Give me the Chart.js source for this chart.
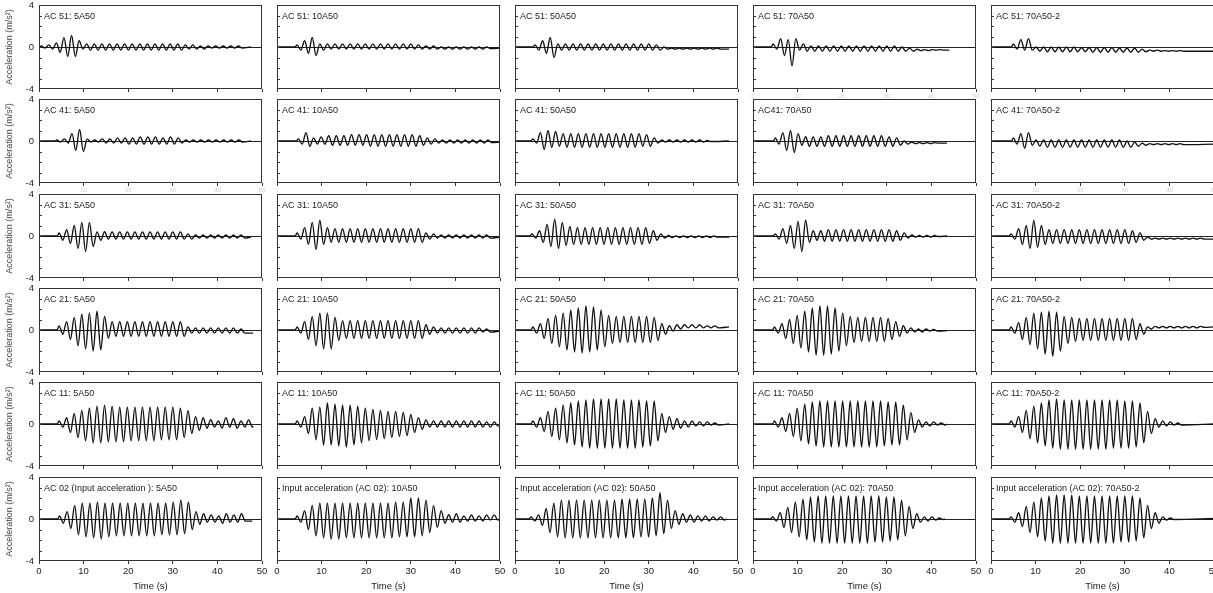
<!DOCTYPE html>
<html>
<head>
<meta charset="utf-8">
<script src="https://cdn.jsdelivr.net/npm/chart.js@4.4.1/dist/chart.umd.min.js"></script>
<style>
html, body { margin: 0; padding: 0; background: #fff; overflow: hidden; }
#grid { position: relative; width: 1213px; height: 593px; }
#grid canvas { position: absolute; }
</style>
</head>
<body>
<div id="grid"></div>
<script>
// time between two successive peaks (half a cycle), s
const halfPeriod = 0.85;

const titles = [
  ['AC 51: 5A50', 'AC 51: 10A50', 'AC 51: 50A50', 'AC 51: 70A50', 'AC 51: 70A50-2'],
  ['AC 41: 5A50', 'AC 41: 10A50', 'AC 41: 50A50', 'AC41: 70A50', 'AC 41: 70A50-2'],
  ['AC 31: 5A50', 'AC 31: 10A50', 'AC 31: 50A50', 'AC 31: 70A50', 'AC 31: 70A50-2'],
  ['AC 21: 5A50', 'AC 21: 10A50', 'AC 21: 50A50', 'AC 21: 70A50', 'AC 21: 70A50-2'],
  ['AC 11: 5A50', 'AC 11: 10A50', 'AC 11: 50A50', 'AC 11: 70A50', 'AC 11: 70A50-2'],
  ['AC 02 (Input acceleration ): 5A50', 'Input acceleration (AC 02): 10A50', 'Input acceleration (AC 02): 50A50',
   'Input acceleration (AC 02): 70A50', 'Input acceleration (AC 02): 70A50-2']
];
const xTicks = [0, 10, 20, 30, 40, 50];
const yTicks = [-4, 0, 4];

// when the shaking starts / the record stops, and the level it settles at
const startTime = [
  [0.5, 4.5, 4.5, 4.5, 5.0],
  [4.0, 4.8, 4.0, 5.0, 5.0],
  [4.5, 4.5, 3.8, 5.0, 4.5],
  [4.5, 4.5, 4.0, 4.8, 4.5],
  [4.5, 4.5, 4.0, 4.8, 4.5],
  [4.6, 4.5, 3.6, 4.4, 4.5]
];
const endTime = [
  [47.5, 50, 48, 44, 50],
  [47.5, 50, 48, 43.5, 50],
  [47.5, 50, 48, 43.5, 50],
  [48, 50, 48, 43.5, 50],
  [48, 50, 48, 43.5, 50],
  [47.8, 50, 47.5, 43, 50]
];
const endLevel = [
  [0, -0.1, -0.2, -0.3, -0.4],
  [0, -0.1, 0, -0.2, -0.3],
  [-0.1, -0.1, -0.1, 0, -0.3],
  [-0.3, -0.1, 0.3, -0.05, 0.3],
  [-0.2, -0.1, 0, 0, 0],
  [-0.2, 0, 0, 0, 0.05]
];

// peak values (m/s2), up and down in turn, read cycle by cycle
const ac51_5 = [0.1,-0.1, 0.2,-0.2, 0.4,-0.5, 0.9,-0.9, 1.1,-0.9, 0.6,-0.2, 0.3,-0.3, 0.3,-0.3, 0.3,-0.3, 0.3,-0.3, 0.3,-0.3, 0.3,-0.3, 0.3,-0.3, 0.3,-0.3, 0.3,-0.3, 0.3,-0.3, 0.3,-0.3, 0.3,-0.3, 0.3,-0.3, 0.2,-0.2, 0.2,-0.2, 0.1,-0.2, 0.1,-0.1, 0.1,-0.1, 0.1,-0.1, 0.1,-0.1, 0.1,-0.1];
const ac51_10 = [0.2,-0.3, 0.6,-0.6, 0.9,-0.8, 0.3,-0.3, 0.3,-0.2, 0.3,-0.2, 0.3,-0.2, 0.3,-0.2, 0.3,-0.2, 0.3,-0.2, 0.3,-0.2, 0.3,-0.2, 0.3,-0.2, 0.3,-0.2, 0.3,-0.2, 0.3,-0.2, 0.2,-0.2, 0.1,-0.2, 0.1,-0.2, 0.0,-0.2, 0.0,-0.2, 0.0,-0.2, 0.0,-0.2, 0.0,-0.2, 0.0,-0.2, 0.0,-0.15];
const ac51_50 = [0.2,-0.3, 0.6,-0.6, 0.9,-1.0, 0.3,-0.3, 0.3,-0.3, 0.3,-0.3, 0.3,-0.3, 0.3,-0.3, 0.3,-0.3, 0.3,-0.3, 0.3,-0.3, 0.3,-0.3, 0.3,-0.3, 0.3,-0.3, 0.3,-0.3, 0.3,-0.3, 0.2,-0.3, 0.0,-0.2, -0.1,-0.2, -0.1,-0.2, -0.1,-0.2, -0.1,-0.2, -0.1,-0.2, -0.1,-0.2, -0.1,-0.2];
const ac51_70 = [0.3,-0.2, 0.8,-0.8, 0.7,-1.8, 0.8,-0.3, 0.3,-0.4, 0.1,-0.4, 0.1,-0.4, 0.1,-0.4, 0.1,-0.4, 0.1,-0.4, 0.1,-0.4, 0.1,-0.4, 0.1,-0.4, 0.1,-0.4, 0.1,-0.4, 0.1,-0.4, 0.1,-0.4, 0.0,-0.4, -0.1,-0.4, -0.2,-0.35, -0.25,-0.35, -0.25,-0.3, -0.25,-0.3];
const ac51_70b = [0.3,-0.2, 0.7,-0.3, 0.8,-0.3, 0.0,-0.4, 0.0,-0.45, 0.0,-0.45, 0.0,-0.45, 0.0,-0.45, 0.0,-0.45, -0.05,-0.45, -0.05,-0.5, -0.05,-0.5, -0.05,-0.5, -0.05,-0.5, -0.1,-0.5, -0.1,-0.5, -0.1,-0.5, -0.2,-0.45, -0.3,-0.4, -0.3,-0.4, -0.35,-0.4, -0.35,-0.4, -0.35,-0.4];

const ac41_5 = [0.1,-0.1, 0.2,-0.2, 0.7,-0.9, 1.1,-1.0, 0.2,-0.1, 0.1,-0.1, 0.2,-0.2, 0.2,-0.2, 0.3,-0.2, 0.3,-0.3, 0.3,-0.3, 0.4,-0.3, 0.4,-0.3, 0.4,-0.3, 0.3,-0.3, 0.4,-0.3, 0.3,-0.2, 0.1,-0.1, 0.1,-0.1, 0.1,-0.1, 0.1,-0.1, 0.1,-0.1, 0.1,-0.1, 0.1,-0.1, 0.1,-0.1];
const ac41_10 = [0.2,-0.3, 0.8,-0.5, 0.3,-0.3, 0.4,-0.3, 0.5,-0.4, 0.5,-0.4, 0.5,-0.4, 0.6,-0.4, 0.6,-0.4, 0.6,-0.5, 0.6,-0.5, 0.6,-0.5, 0.6,-0.5, 0.6,-0.5, 0.6,-0.5, 0.6,-0.5, 0.5,-0.4, 0.3,-0.3, 0.2,-0.2, 0.1,-0.2, 0.1,-0.2, 0.1,-0.2, 0.1,-0.2, 0.1,-0.2, 0.1,-0.2, 0.1,-0.15];
const ac41_50 = [0.2,-0.2, 0.8,-0.8, 1.0,-0.6, 0.9,-0.5, 0.7,-0.6, 0.7,-0.6, 0.7,-0.6, 0.7,-0.6, 0.7,-0.6, 0.7,-0.6, 0.7,-0.6, 0.7,-0.6, 0.7,-0.6, 0.7,-0.6, 0.7,-0.5, 0.6,-0.5, 0.3,-0.2, 0.1,-0.1, 0.1,-0.1, 0.1,-0.1, 0.1,-0.1, 0.1,-0.1, 0.1,-0.1, 0.05,-0.05];
const ac41_70 = [0.3,-0.3, 0.8,-0.9, 1.0,-1.1, 0.7,-0.4, 0.4,-0.5, 0.4,-0.5, 0.4,-0.5, 0.5,-0.5, 0.5,-0.5, 0.5,-0.5, 0.5,-0.5, 0.5,-0.5, 0.5,-0.5, 0.5,-0.5, 0.5,-0.5, 0.4,-0.5, 0.3,-0.4, 0.0,-0.3, -0.1,-0.25, -0.15,-0.25, -0.15,-0.25, -0.15,-0.2];
const ac41_70b = [0.3,-0.3, 0.7,-0.7, 0.8,-0.4, 0.1,-0.5, 0.1,-0.6, 0.1,-0.6, 0.1,-0.6, 0.1,-0.6, 0.1,-0.6, 0.1,-0.6, 0.1,-0.6, 0.1,-0.6, 0.1,-0.6, 0.1,-0.6, 0.1,-0.6, 0.0,-0.6, -0.1,-0.5, -0.2,-0.4, -0.25,-0.35, -0.25,-0.35, -0.25,-0.35, -0.25,-0.35, -0.25,-0.35];

const ac31_5 = [0.3,-0.4, 0.6,-0.7, 1.0,-1.2, 1.3,-1.5, 1.3,-1.0, 0.4,-0.4, 0.4,-0.3, 0.4,-0.3, 0.4,-0.3, 0.4,-0.3, 0.4,-0.3, 0.4,-0.3, 0.4,-0.3, 0.4,-0.3, 0.4,-0.3, 0.4,-0.3, 0.4,-0.3, 0.2,-0.3, 0.1,-0.2, 0.1,-0.2, 0.1,-0.2, 0.1,-0.2, 0.1,-0.2, 0.1,-0.2, 0.1,-0.2];
const ac31_10 = [0.3,-0.3, 0.8,-0.8, 1.3,-1.3, 1.5,-0.8, 0.8,-0.6, 0.7,-0.6, 0.7,-0.6, 0.7,-0.6, 0.7,-0.6, 0.7,-0.6, 0.7,-0.6, 0.7,-0.6, 0.7,-0.6, 0.7,-0.6, 0.7,-0.6, 0.7,-0.6, 0.7,-0.6, 0.3,-0.3, 0.2,-0.2, 0.1,-0.2, 0.1,-0.2, 0.1,-0.2, 0.1,-0.2, 0.1,-0.2, 0.1,-0.2, 0.1,-0.2];
const ac31_50 = [0.2,-0.2, 0.5,-0.6, 1.1,-1.0, 1.6,-1.2, 1.3,-0.9, 0.9,-0.8, 0.8,-0.8, 0.8,-0.8, 0.8,-0.8, 0.8,-0.8, 0.8,-0.8, 0.8,-0.8, 0.8,-0.8, 0.8,-0.8, 0.8,-0.8, 0.8,-0.7, 0.5,-0.4, 0.2,-0.2, 0.05,-0.15, 0.0,-0.15, 0.0,-0.15, 0.0,-0.15, 0.0,-0.15, 0.0,-0.15, 0.0,-0.1];
const ac31_70 = [0.2,-0.3, 0.7,-0.7, 1.0,-1.2, 1.4,-1.5, 1.5,-0.6, 0.5,-0.4, 0.5,-0.5, 0.6,-0.5, 0.6,-0.5, 0.6,-0.5, 0.6,-0.5, 0.6,-0.5, 0.6,-0.5, 0.6,-0.5, 0.6,-0.5, 0.6,-0.5, 0.5,-0.4, 0.3,-0.2, 0.1,-0.1, 0.05,-0.1, 0.05,-0.1, 0.05,-0.05];
const ac31_70b = [0.2,-0.3, 0.7,-0.8, 1.0,-1.2, 1.5,-1.1, 1.0,-0.8, 0.6,-0.7, 0.6,-0.7, 0.6,-0.7, 0.6,-0.7, 0.6,-0.7, 0.6,-0.7, 0.6,-0.7, 0.6,-0.7, 0.6,-0.7, 0.6,-0.7, 0.6,-0.7, 0.5,-0.6, 0.3,-0.4, -0.1,-0.3, -0.2,-0.3, -0.2,-0.3, -0.2,-0.3, -0.2,-0.3, -0.2,-0.3, -0.2,-0.3, -0.2,-0.3];

const ac21_5 = [0.4,-0.4, 0.8,-0.9, 1.2,-1.5, 1.5,-1.8, 1.6,-2.0, 1.8,-1.9, 1.3,-0.8, 0.8,-0.6, 0.8,-0.6, 0.8,-0.6, 0.8,-0.6, 0.8,-0.6, 0.8,-0.6, 0.8,-0.6, 0.8,-0.6, 0.8,-0.6, 0.8,-0.6, 0.3,-0.3, 0.2,-0.3, 0.2,-0.3, 0.2,-0.3, 0.2,-0.3, 0.2,-0.3, 0.2,-0.3, 0.1,-0.3];
const ac21_10 = [0.3,-0.3, 0.8,-0.9, 1.3,-1.5, 1.6,-1.8, 1.6,-1.8, 1.2,-1.0, 0.9,-0.8, 0.9,-0.8, 0.9,-0.8, 0.9,-0.8, 0.9,-0.8, 0.9,-0.8, 0.9,-0.8, 0.9,-0.8, 0.9,-0.8, 0.9,-0.8, 0.9,-0.8, 0.5,-0.4, 0.3,-0.3, 0.2,-0.3, 0.2,-0.3, 0.2,-0.3, 0.2,-0.3, 0.2,-0.3, 0.2,-0.2, 0.1,-0.2];
const ac21_50 = [0.3,-0.3, 0.6,-0.8, 1.1,-1.3, 1.4,-1.6, 1.6,-1.9, 1.9,-2.1, 2.1,-2.2, 2.3,-2.1, 2.2,-1.9, 1.9,-1.6, 1.4,-1.3, 1.3,-1.2, 1.3,-1.2, 1.3,-1.2, 1.3,-1.2, 1.3,-1.2, 1.2,-1.0, 0.6,-0.4, 0.4,-0.1, 0.5,0.1, 0.5,0.2, 0.5,0.2, 0.5,0.2, 0.4,0.2, 0.4,0.2];
const ac21_70 = [0.3,-0.3, 0.6,-0.8, 1.0,-1.3, 1.4,-1.7, 1.8,-2.1, 2.1,-2.4, 2.3,-2.4, 2.3,-2.3, 2.1,-2.0, 1.6,-1.5, 1.3,-1.2, 1.2,-1.1, 1.2,-1.1, 1.2,-1.1, 1.2,-1.1, 1.1,-0.9, 0.8,-0.6, 0.4,-0.3, 0.2,-0.2, 0.1,-0.2, 0.1,-0.1, 0.05,-0.1];
const ac21_70b = [0.3,-0.3, 0.7,-0.9, 1.2,-1.4, 1.6,-1.8, 1.7,-2.3, 1.8,-2.5, 1.7,-2.0, 1.3,-1.3, 1.2,-1.1, 1.1,-1.0, 1.1,-1.0, 1.1,-1.0, 1.1,-1.0, 1.1,-1.0, 1.1,-1.0, 1.1,-1.0, 1.1,-0.9, 0.6,-0.4, 0.3,0.1, 0.35,0.2, 0.35,0.2, 0.35,0.2, 0.35,0.2, 0.35,0.2, 0.35,0.2, 0.35,0.25];

const ac11_5 = [0.3,-0.3, 0.6,-0.8, 1.0,-1.3, 1.3,-1.6, 1.5,-1.8, 1.7,-1.8, 1.8,-1.7, 1.7,-1.7, 1.6,-1.7, 1.6,-1.6, 1.6,-1.6, 1.6,-1.6, 1.6,-1.6, 1.6,-1.5, 1.6,-1.5, 1.6,-1.5, 1.5,-1.3, 1.3,-0.9, 0.7,-0.6, 0.6,-0.4, 0.4,-0.3, 0.3,-0.4, 0.6,-0.3, 0.5,-0.4, 0.3,-0.3, 0.4,-0.3];
const ac11_10 = [0.3,-0.3, 0.7,-0.9, 1.5,-1.5, 1.6,-2.0, 2.0,-2.0, 1.9,-2.1, 1.8,-2.2, 1.8,-2.0, 1.7,-1.8, 1.5,-1.6, 1.4,-1.5, 1.3,-1.4, 1.2,-1.3, 1.2,-1.2, 1.1,-1.1, 0.9,-0.8, 0.6,-0.5, 0.4,-0.3, 0.3,-0.3, 0.3,-0.3, 0.3,-0.3, 0.3,-0.3, 0.3,-0.3, 0.3,-0.3, 0.3,-0.3, 0.2,-0.3, 0.2,-0.2];
const ac11_50 = [0.3,-0.3, 0.6,-0.7, 1.2,-1.2, 1.5,-1.5, 1.8,-1.8, 2.0,-2.0, 2.2,-2.2, 2.3,-2.3, 2.4,-2.3, 2.4,-2.3, 2.4,-2.3, 2.4,-2.3, 2.3,-2.3, 2.3,-2.3, 2.3,-2.2, 2.2,-2.1, 2.2,-1.6, 1.0,-0.8, 0.7,-0.5, 0.5,-0.4, 0.3,-0.3, 0.3,-0.2, 0.2,-0.2, 0.2,-0.1, 0.1,-0.1];
const ac11_70 = [0.3,-0.3, 0.6,-0.7, 1.0,-1.2, 1.5,-1.6, 1.9,-1.9, 2.1,-2.1, 2.2,-2.2, 2.2,-2.2, 2.2,-2.2, 2.2,-2.2, 2.2,-2.2, 2.2,-2.2, 2.2,-2.2, 2.2,-2.2, 2.2,-2.1, 2.1,-2.0, 2.1,-2.0, 1.8,-1.5, 1.1,-0.8, 0.4,-0.3, 0.2,-0.2, 0.2,-0.1, 0.1,-0.1];
const ac11_70b = [0.3,-0.3, 0.7,-0.8, 1.3,-1.4, 1.7,-1.8, 2.0,-2.1, 2.3,-2.3, 2.4,-2.4, 2.3,-2.4, 2.3,-2.4, 2.3,-2.4, 2.3,-2.4, 2.3,-2.4, 2.3,-2.4, 2.3,-2.3, 2.3,-2.3, 2.2,-2.3, 2.2,-2.2, 2.0,-1.8, 1.2,-0.9, 0.5,-0.3, 0.3,-0.2, 0.2,-0.1, 0.1,-0.1];

const ac02_5 = [0.3,-0.4, 0.7,-0.9, 1.3,-1.5, 1.5,-1.7, 1.5,-1.8, 1.6,-1.9, 1.5,-1.7, 1.5,-1.6, 1.5,-1.6, 1.5,-1.6, 1.5,-1.6, 1.5,-1.6, 1.5,-1.6, 1.5,-1.5, 1.5,-1.5, 1.6,-1.5, 1.8,-1.4, 1.6,-1.0, 0.7,-0.5, 0.5,-0.3, 0.4,-0.3, 0.3,-0.4, 0.5,-0.3, 0.4,-0.3, 0.5,-0.2];
const ac02_10 = [0.3,-0.3, 0.8,-1.0, 1.3,-1.6, 1.5,-1.8, 1.5,-1.9, 1.5,-1.9, 1.5,-1.8, 1.5,-1.8, 1.5,-1.8, 1.5,-1.8, 1.5,-1.8, 1.5,-1.8, 1.5,-1.8, 1.6,-1.7, 1.6,-1.7, 2.0,-1.7, 2.0,-1.6, 1.8,-1.3, 1.3,-0.8, 0.8,-0.4, 0.4,-0.3, 0.5,-0.3, 0.3,-0.2, 0.4,-0.2, 0.3,-0.2, 0.4,-0.1, 0.4,-0.1];
const ac02_50 = [0.2,-0.2, 0.4,-0.6, 1.0,-1.3, 1.5,-1.7, 1.8,-1.8, 1.8,-1.8, 1.8,-1.8, 1.8,-1.8, 1.8,-1.8, 1.8,-1.8, 1.8,-1.8, 1.8,-1.8, 1.9,-1.8, 1.9,-1.8, 1.9,-1.7, 1.9,-1.7, 2.0,-1.6, 2.5,-1.4, 1.8,-0.9, 0.8,-0.5, 0.5,-0.3, 0.4,-0.3, 0.3,-0.2, 0.3,-0.2, 0.2,-0.1, 0.2,-0.1];
const ac02_70 = [0.2,-0.2, 0.6,-0.8, 1.1,-1.3, 1.6,-1.7, 1.9,-2.0, 2.1,-2.2, 2.2,-2.3, 2.2,-2.3, 2.2,-2.3, 2.2,-2.3, 2.2,-2.3, 2.2,-2.3, 2.2,-2.3, 2.2,-2.2, 2.2,-2.2, 2.1,-2.1, 2.1,-2.0, 1.8,-1.6, 1.2,-0.9, 0.5,-0.3, 0.2,-0.2, 0.2,-0.1, 0.1,-0.05];
const ac02_70b = [0.2,-0.3, 0.6,-0.7, 1.2,-1.3, 1.6,-1.7, 2.0,-2.1, 2.2,-2.3, 2.3,-2.3, 2.3,-2.3, 2.3,-2.3, 2.2,-2.3, 2.2,-2.3, 2.2,-2.3, 2.2,-2.3, 2.2,-2.3, 2.2,-2.2, 2.2,-2.2, 2.2,-2.1, 2.0,-1.8, 1.3,-0.9, 0.6,-0.4, 0.2,-0.1, 0.1,-0.05];

const peaks = [
  [ac51_5, ac51_10, ac51_50, ac51_70, ac51_70b],
  [ac41_5, ac41_10, ac41_50, ac41_70, ac41_70b],
  [ac31_5, ac31_10, ac31_50, ac31_70, ac31_70b],
  [ac21_5, ac21_10, ac21_50, ac21_70, ac21_70b],
  [ac11_5, ac11_10, ac11_50, ac11_70, ac11_70b],
  [ac02_5, ac02_10, ac02_50, ac02_70, ac02_70b]
];

// panels whose x labels show up as faint ghosts in the original
const ghostLabels = ['0-3', '1-0', '1-4'];

const FONT = '"Liberation Sans", Arial, sans-serif';
Chart.defaults.font.family = FONT;

// frame, inner ticks and panel caption
const panelFrame = {
  id: 'panelFrame',
  afterDatasetsDraw(chart, args, opts) {
    const { ctx, chartArea: a } = chart;
    const y = chart.scales.y;
    ctx.save();
    ctx.strokeStyle = '#333';
    ctx.lineWidth = 1;
    ctx.strokeRect(a.left + 0.5, a.top + 0.5, a.width - 1, a.height - 1);
    for (let v = -3; v <= 3; v++) {
      const py = Math.round(y.getPixelForValue(v)) + 0.5;
      ctx.beginPath();
      ctx.moveTo(a.left, py);
      ctx.lineTo(a.left + 3, py);
      ctx.stroke();
    }
    ctx.fillStyle = '#222';
    ctx.font = '9px ' + FONT;
    ctx.textBaseline = 'middle';
    ctx.fillText(opts.title, a.left + 5, a.top + 12);
    ctx.restore();
  }
};

function series(r, c) {
  const t0 = startTime[r][c];
  const pts = [{ x: 0, y: 0 }, { x: t0 - halfPeriod / 2, y: 0 }];
  peaks[r][c].forEach((v, i) => pts.push({ x: t0 + i * halfPeriod, y: v }));
  pts.push({ x: endTime[r][c], y: endLevel[r][c] });
  return pts;
}

const grid = document.getElementById('grid');
for (let r = 0; r < 6; r++) {
  for (let c = 0; c < 5; c++) {
    const cv = document.createElement('canvas');
    cv.width = 271;
    cv.height = 121;
    cv.style.left = (39 + c * 238 - 38) + 'px';
    cv.style.top = Math.round(5 + r * 94.3 - 6) + 'px';
    grid.appendChild(cv);

    const bottom = r === 5;
    const ghost = ghostLabels.includes(r + '-' + c);

    new Chart(cv, {
      type: 'line',
      data: {
        datasets: [{
          data: series(r, c),
          borderColor: '#111',
          borderWidth: 1.35,
          pointRadius: 0,
          cubicInterpolationMode: 'monotone',
          fill: false
        }]
      },
      options: {
        responsive: false,
        animation: false,
        devicePixelRatio: 1,
        events: [],
        layout: { padding: { top: 6, right: 10, left: 0, bottom: 0 } },
        plugins: {
          legend: { display: false },
          tooltip: { enabled: false },
          panelFrame: { title: titles[r][c] }
        },
        scales: {
          x: {
            type: 'linear',
            min: 0,
            max: 50,
            afterBuildTicks: s => { s.ticks = xTicks.map(v => ({ value: v })); },
            ticks: {
              display: bottom || ghost,
              color: bottom ? '#222' : '#d0d0d0',
              font: { size: bottom ? 9.5 : 6 },
              padding: bottom ? 2 : 1,
              maxRotation: 0,
              autoSkip: false
            },
            grid: { drawOnChartArea: false, drawTicks: true, tickLength: 3, color: '#333' },
            border: { display: false },
            title: {
              display: bottom,
              text: 'Time (s)',
              color: '#222',
              font: { size: 9.5 },
              padding: { top: 1, bottom: 0 }
            },
            afterFit: s => { s.height = 31; s.paddingLeft = 0; s.paddingRight = 0; }
          },
          y: {
            min: -4,
            max: 4,
            ticks: {
              stepSize: 1,
              color: '#222',
              font: { size: 9.5 },
              padding: 5,
              callback: v => (c === 0 && yTicks.includes(v)) ? String(v) : ''
            },
            grid: {
              drawTicks: false,
              color: ctx => (ctx.tick && ctx.tick.value === 0) ? '#222' : 'rgba(0,0,0,0)',
              lineWidth: 1
            },
            border: { display: false },
            title: {
              display: c === 0,
              text: 'Acceleration (m/s²)',
              color: '#444',
              font: { size: 9 },
              padding: { top: 3, bottom: 2 }
            },
            afterFit: s => { s.width = 38; s.paddingTop = 0; s.paddingBottom = 0; }
          }
        }
      },
      plugins: [panelFrame]
    });
  }
}
</script>
</body>
</html>
